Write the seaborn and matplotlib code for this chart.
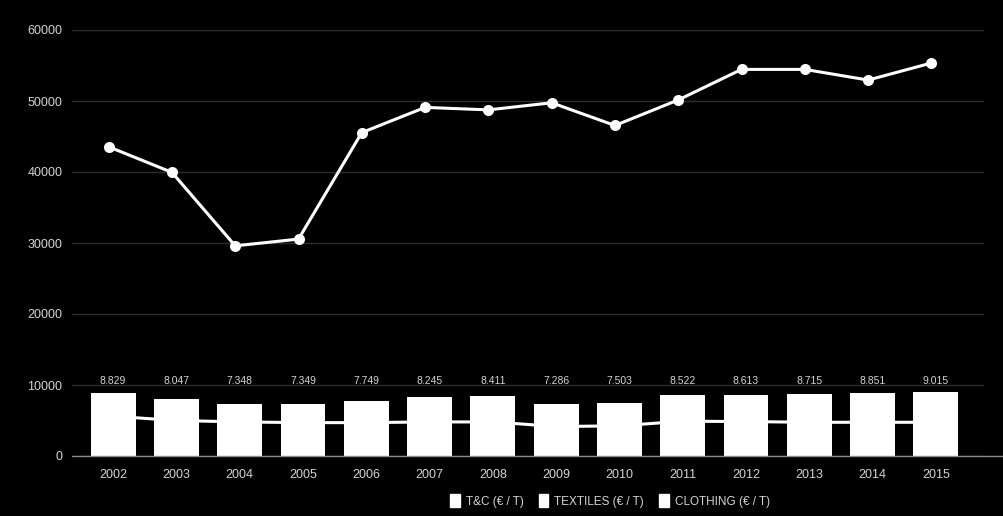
import numpy as np
import pandas as pd
import matplotlib
matplotlib.use("Agg")
import matplotlib.pyplot as plt
import matplotlib.transforms as mtransforms
from matplotlib.patches import Patch
import seaborn as sns

years = ["2002", "2003", "2004", "2005", "2006", "2007", "2008",
         "2009", "2010", "2011", "2012", "2013", "2014", "2015"]
tc_values = [8829, 8047, 7348, 7349, 7749, 8245, 8411,
             7286, 7503, 8522, 8613, 8715, 8851, 9015]
textiles_values = [5600, 5000, 4800, 4700, 4700, 4800, 4800,
                   4150, 4250, 4900, 4850, 4750, 4750, 4750]
clothing_values = [43550, 39950, 29600, 30550, 45550, 49100, 48750,
                   49750, 46550, 50150, 54450, 54450, 52950, 55350]
y_ticks = [0, 10000, 20000, 30000, 40000, 50000, 60000]
legend_labels = ["T&C (€ / T)", "TEXTILES (€ / T)", "CLOTHING (€ / T)"]

df = pd.DataFrame({"year": years, "tc": tc_values,
                   "textiles": textiles_values, "clothing": clothing_values})

sns.set_theme(style="dark")
plt.rcParams["font.family"] = ["Liberation Sans", "DejaVu Sans"]

TXT = "#d4d4d4"
fig = plt.figure(figsize=(10.04, 5.16), dpi=100, facecolor="black")
ax = fig.add_axes([72 / 1004, 1 - 456 / 516, (984 - 72) / 1004, (456 - 30) / 516])
ax.set_facecolor("black")

# textiles line (behind bars)
sns.pointplot(data=df, x="year", y="textiles", color="white", ax=ax,
              markers="o", markersize=5, linewidth=2.2, zorder=2, errorbar=None)
# T&C bars
sns.barplot(data=df, x="year", y="tc", color="white", saturation=1, width=0.71,
            ax=ax, zorder=3, errorbar=None)
for p in ax.patches:
    p.set_linewidth(0)
# clothing line
n_before = len(ax.lines)
sns.pointplot(data=df, x="year", y="clothing", color="white", ax=ax,
              markers="o", markersize=6.3, linewidth=2.2, zorder=5, errorbar=None)
shift = mtransforms.offset_copy(ax.transData, fig=fig, x=-4.5, y=0, units="dots")
for ln in ax.lines[n_before:]:
    ln.set_transform(shift)

label_y = 10600
for i, v in enumerate(tc_values):
    ax.text(i, label_y, f"{v:,}".replace(",", "."), ha="center", va="center",
            color=TXT, fontsize=7.5)

ax.set_ylim(0, 60000)
ax.set_xlim(-0.65, 13.76)
ax.set_yticks(y_ticks)
ax.set_yticklabels([str(t) for t in y_ticks])
ax.yaxis.grid(True, color="#2e2e2e", linewidth=1)
ax.xaxis.grid(False)
ax.set_axisbelow(True)
for s in ax.spines.values():
    s.set_visible(False)
ax.axhline(0, xmin=0, xmax=(1003 - 72) / (984 - 72), color="#8a8a8a",
           linewidth=1, clip_on=False, zorder=4)
ax.tick_params(axis="y", colors=TXT, labelsize=9, length=0, pad=7)
ax.tick_params(axis="x", colors=TXT, labelsize=9, length=0, pad=9)
ax.set_xlabel("")
ax.set_ylabel("")

handles = [Patch(facecolor="white", edgecolor="white") for _ in legend_labels]
leg = fig.legend(handles, legend_labels, loc="center", ncol=3,
                 bbox_to_anchor=(610 / 1004, 1 - 501 / 516), frameon=False,
                 fontsize=8.5, handlelength=0.8, handleheight=1.2,
                 handletextpad=0.5, columnspacing=1.3)
for t in leg.get_texts():
    t.set_color(TXT)

fig.savefig("out.png", dpi=100, facecolor="black")
